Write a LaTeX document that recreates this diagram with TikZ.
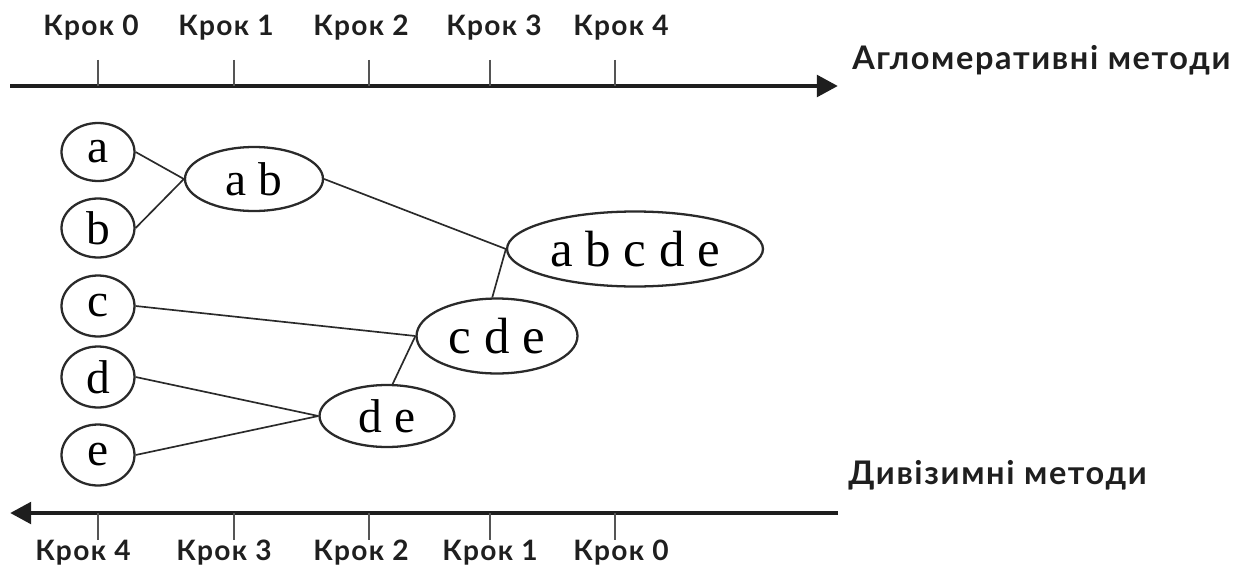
\documentclass[tikz,border=0pt]{standalone}
\usepackage{fontspec}
\setmainfont{Liberation Serif}
\newfontfamily\lblfont[LetterSpace=5]{Lato}
\usetikzlibrary{shapes.geometric,arrows.meta}
\definecolor{axisc}{HTML}{1E1E1E}
\definecolor{tickc}{HTML}{555555}
\definecolor{linec}{HTML}{2A2A2A}
\tikzset{
  axisline/.style={line width=2.8pt,color=axisc,-{Triangle[length=12pt,width=12pt]}},
  tickline/.style={line width=1.1pt,color=tickc},
  steplbl/.style={font=\lblfont\bfseries\fontsize{16}{18}\selectfont,inner sep=0pt,text=black!88},
  methlbl/.style={font=\lblfont\bfseries\fontsize{18.5}{20}\selectfont,inner sep=0pt,anchor=west,text=black!88},
  clus/.style={ellipse,draw=linec,line width=1.3pt,inner sep=0pt},
  smallclus/.style={clus,font=\fontsize{27}{29}\selectfont},
  bigclus/.style={clus,font=\fontsize{29}{31}\selectfont},
  link/.style={line width=0.95pt,color=linec}
}
\begin{document}
\begin{tikzpicture}[x=0.02cm,y=-0.02cm]
\useasboundingbox (0,0) rectangle (1239,571);
% top axis
\coordinate (ta0) at (10,86);
\coordinate (ta1) at (838,86);
\draw[axisline] (ta0) -- (ta1);
\foreach \i/\x in {0/98,1/234,2/369,3/490,4/615}{
  \coordinate (tt\i) at (\x,60);
  \coordinate (tb\i) at (\x,86);
  \draw[tickline] (tt\i) -- (tb\i);
}
\node[steplbl] (tl0) at (91,28) {Крок 0};
\node[steplbl] (tl1) at (226,28) {Крок 1};
\node[steplbl] (tl2) at (361,28) {Крок 2};
\node[steplbl] (tl3) at (494,28) {Крок 3};
\node[steplbl] (tl4) at (621,28) {Крок 4};
\node[methlbl] (agl) at (852,60) {Агломеративні методи};
% bottom axis
\coordinate (ba0) at (838,513);
\coordinate (ba1) at (10,513);
\draw[axisline] (ba0) -- (ba1);
\foreach \i/\x in {0/98,1/234,2/369,3/490,4/615}{
  \coordinate (bt\i) at (\x,513);
  \coordinate (bb\i) at (\x,540);
  \draw[tickline] (bt\i) -- (bb\i);
}
\node[steplbl] (bl4) at (83,553) {Крок 4};
\node[steplbl] (bl3) at (224,553) {Крок 3};
\node[steplbl] (bl2) at (361,553) {Крок 2};
\node[steplbl] (bl1) at (490,553) {Крок 1};
\node[steplbl] (bl0) at (621,553) {Крок 0};
\node[methlbl] (div) at (848,475) {Дивізимні методи};
% clusters
\node[smallclus,minimum width=1.46cm,minimum height=1.16cm] (a) at (98,152) {a};
\node[smallclus,minimum width=1.46cm,minimum height=1.18cm] (b) at (98,228) {b};
\node[smallclus,minimum width=1.46cm,minimum height=1.22cm] (c) at (98,306) {c};
\node[smallclus,minimum width=1.46cm,minimum height=1.22cm] (d) at (98,377) {d};
\node[smallclus,minimum width=1.46cm,minimum height=1.22cm] (e) at (98,455) {e};
\node[smallclus,minimum width=2.76cm,minimum height=1.28cm] (ab) at (254,179) {a b};
\node[bigclus,minimum width=5.12cm,minimum height=1.5cm] (abcde) at (635,249) {a b c d e};
\node[bigclus,minimum width=3.22cm,minimum height=1.5cm] (cde) at (497,336) {c d e};
\node[smallclus,minimum width=2.7cm,minimum height=1.24cm] (de) at (387,416) {d e};
% links
\draw[link] (a.east) -- (ab.west);
\draw[link] (b.east) -- (ab.west);
\draw[link] (ab.east) -- (abcde.west);
\draw[link] (cde.97) -- (abcde.west);
\draw[link] (c.east) -- (cde.west);
\draw[link] (d.east) -- (de.west);
\draw[link] (e.east) -- (de.west);
\draw[link] (de.80) -- (cde.west);
\end{tikzpicture}
\end{document}
